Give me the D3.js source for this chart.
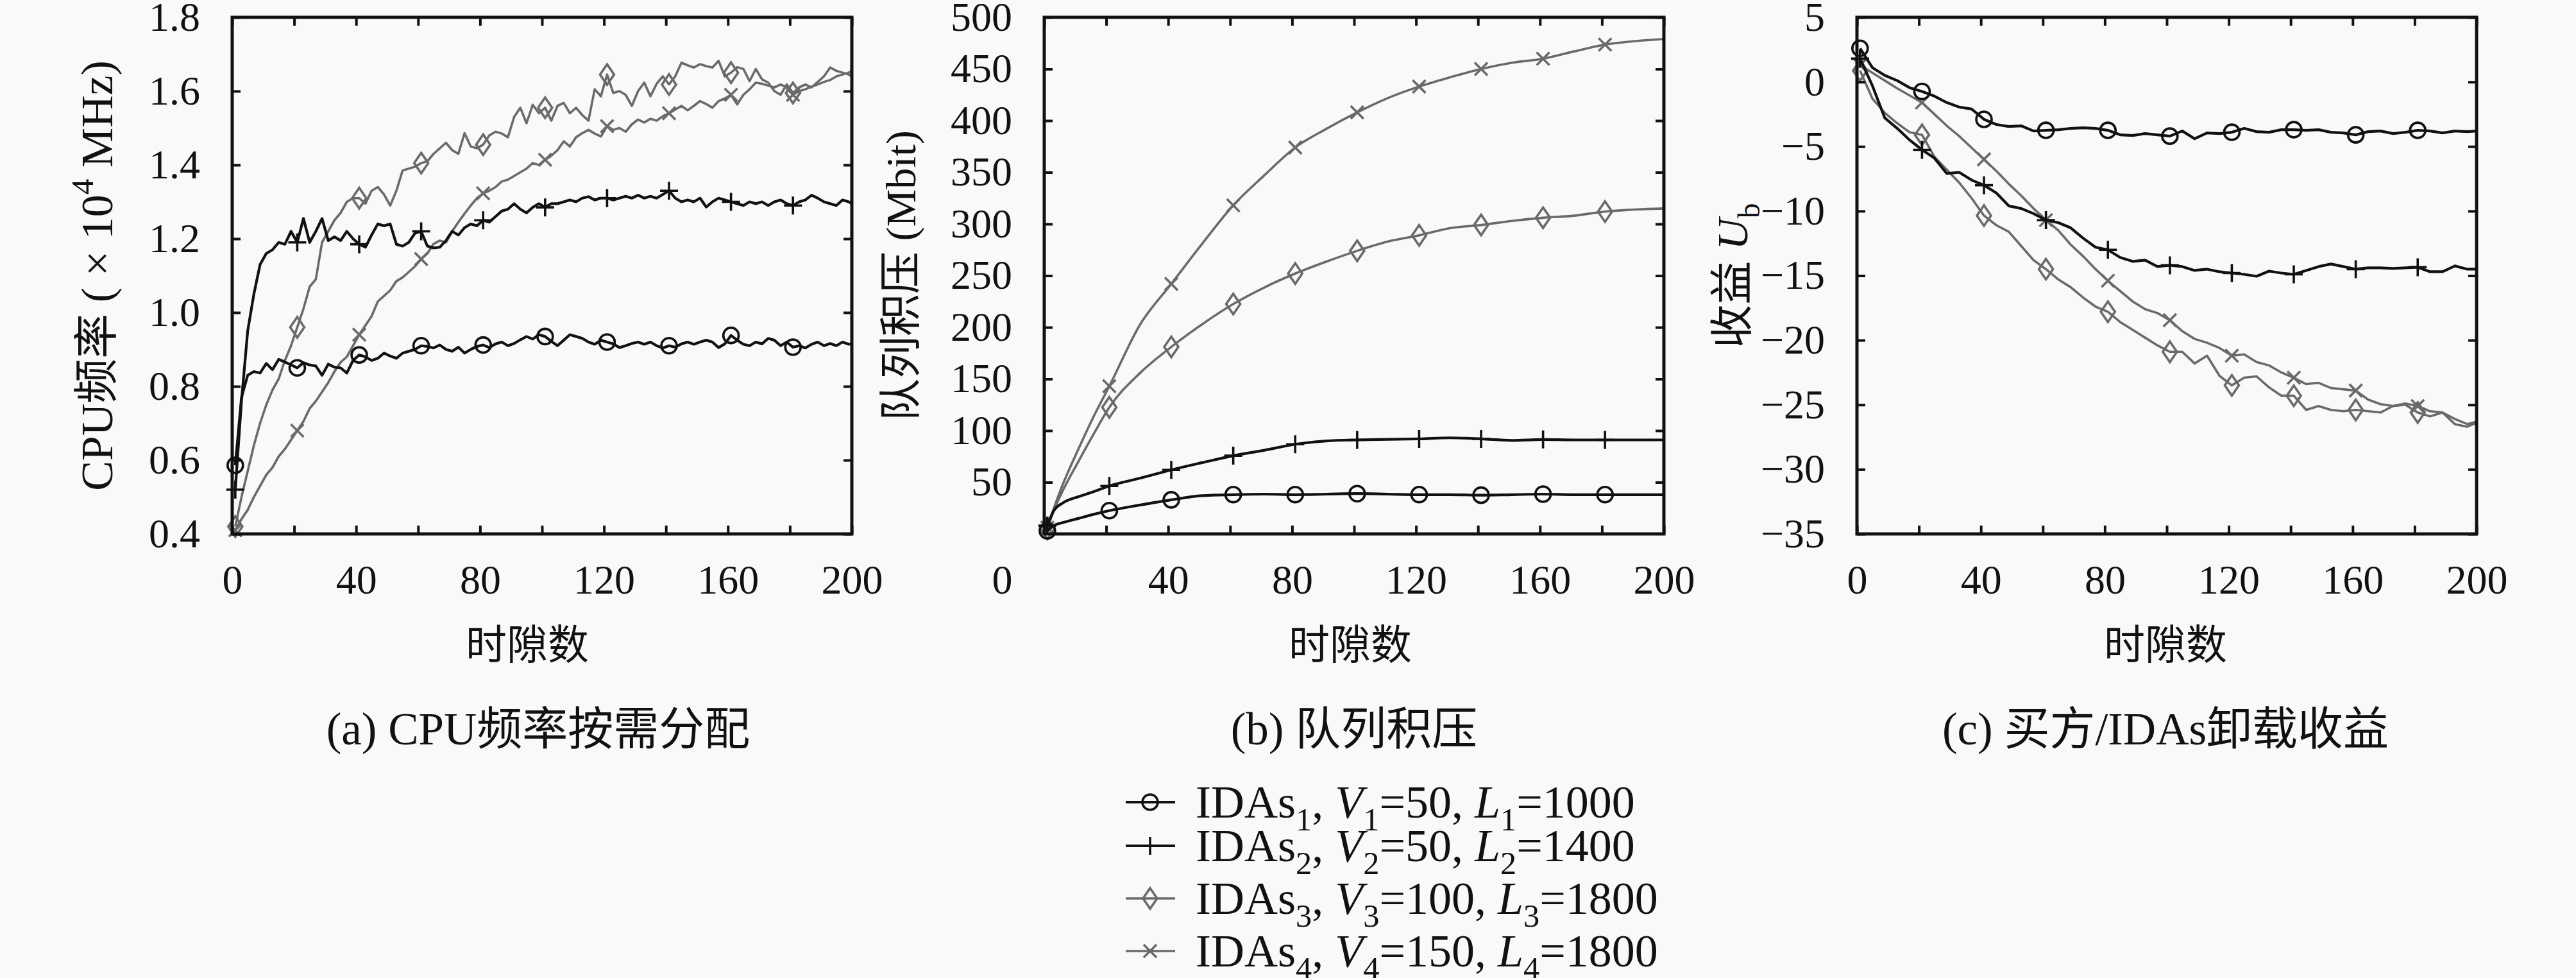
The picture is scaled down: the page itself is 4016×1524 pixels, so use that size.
<!DOCTYPE html>
<html>
<head>
<meta charset="utf-8">
<script src="https://cdn.jsdelivr.net/npm/d3@7"></script>
<style>
  body { margin: 0; background: #f9f9f9; }
  text { font-family: "Liberation Serif", "DejaVu Serif", "Noto Sans CJK SC", serif; fill: #111; }
</style>
</head>
<body>
<svg id="chart"></svg>
<script>
// ---- data ----
const slotsA = d3.range(1, 200, 2).concat([200]);          // time slots, panel (a)
const slotsB = [1, 3, 6, 11, 16, 21, 31, 41, 51, 61, 71, 81, 91, 101, 111, 121, 131, 141, 151, 161, 171, 181, 191, 200];
const slotsC = d3.range(1, 200, 4).concat([200]);          // time slots, panel (c)
const markSlots = [1, 21, 41, 61, 81, 101, 121, 141, 161, 181];

const xTickVals = [0, 20, 40, 60, 80, 100, 120, 140, 160, 180, 200];
const xLabelVals = [0, 40, 80, 120, 160, 200];
const yTicksA = [0.4, 0.6, 0.8, 1.0, 1.2, 1.4, 1.6, 1.8];
const yTicksB = [50, 100, 150, 200, 250, 300, 350, 400, 450, 500];
const yTicksC = [-35, -30, -25, -20, -15, -10, -5, 0, 5];

// (a) CPU frequency, x10^4 MHz
const cpu1 = [0.586,0.77,0.83,0.84,0.836,0.862,0.845,0.873,0.866,0.858,
  0.85,0.864,0.858,0.855,0.83,0.86,0.852,0.85,0.836,0.87,
  0.885,0.88,0.87,0.876,0.89,0.882,0.876,0.89,0.895,0.9,
  0.91,0.908,0.904,0.912,0.9,0.895,0.906,0.89,0.9,0.908,
  0.912,0.905,0.915,0.92,0.91,0.916,0.926,0.935,0.928,0.94,
  0.935,0.922,0.91,0.925,0.94,0.935,0.93,0.92,0.914,0.925,
  0.92,0.915,0.905,0.91,0.916,0.92,0.914,0.92,0.91,0.904,
  0.91,0.906,0.915,0.92,0.914,0.92,0.925,0.92,0.905,0.915,
  0.938,0.925,0.914,0.91,0.92,0.915,0.93,0.925,0.91,0.92,
  0.906,0.91,0.904,0.914,0.92,0.91,0.916,0.91,0.92,0.914,
  0.915];
const cpu2 = [0.52,0.76,0.95,1.05,1.13,1.16,1.17,1.19,1.185,1.22,
  1.19,1.255,1.19,1.22,1.255,1.195,1.205,1.195,1.22,1.2,
  1.185,1.177,1.21,1.24,1.235,1.24,1.185,1.18,1.19,1.215,
  1.22,1.18,1.175,1.177,1.195,1.22,1.21,1.23,1.24,1.235,
  1.25,1.245,1.26,1.275,1.28,1.295,1.28,1.27,1.285,1.295,
  1.285,1.295,1.295,1.3,1.305,1.3,1.31,1.314,1.305,1.31,
  1.31,1.305,1.31,1.315,1.31,1.318,1.31,1.315,1.31,1.32,
  1.33,1.31,1.3,1.305,1.3,1.31,1.286,1.3,1.31,1.305,
  1.3,1.295,1.29,1.3,1.295,1.3,1.29,1.3,1.305,1.295,
  1.29,1.3,1.305,1.318,1.31,1.3,1.295,1.29,1.305,1.3,
  1.295];
const cpu3 = [0.42,0.5,0.57,0.64,0.7,0.75,0.79,0.82,0.87,0.91,
  0.96,1.01,1.07,1.09,1.19,1.22,1.25,1.27,1.3,1.31,
  1.31,1.295,1.33,1.34,1.32,1.29,1.33,1.385,1.39,1.395,
  1.405,1.41,1.43,1.445,1.46,1.44,1.43,1.486,1.45,1.445,
  1.455,1.48,1.49,1.485,1.475,1.53,1.555,1.513,1.563,1.54,
  1.555,1.52,1.56,1.568,1.54,1.555,1.535,1.52,1.605,1.586,
  1.645,1.595,1.6,1.59,1.56,1.6,1.623,1.586,1.62,1.64,
  1.618,1.64,1.677,1.67,1.664,1.673,1.668,1.664,1.682,1.64,
  1.65,1.665,1.66,1.627,1.66,1.632,1.623,1.6,1.59,1.618,
  1.595,1.61,1.618,1.61,1.625,1.64,1.664,1.655,1.65,1.645,
  1.64];
const cpu4 = [0.41,0.44,0.465,0.5,0.53,0.56,0.58,0.61,0.63,0.655,
  0.68,0.705,0.74,0.76,0.785,0.81,0.84,0.865,0.88,0.91,
  0.94,0.965,0.99,1.03,1.045,1.06,1.085,1.095,1.11,1.125,
  1.145,1.16,1.186,1.195,1.19,1.22,1.245,1.268,1.29,1.31,
  1.323,1.33,1.34,1.355,1.36,1.37,1.38,1.39,1.405,1.4,
  1.414,1.425,1.44,1.464,1.45,1.475,1.486,1.495,1.485,1.477,
  1.505,1.495,1.5,1.49,1.51,1.523,1.515,1.525,1.52,1.532,
  1.54,1.55,1.56,1.548,1.56,1.573,1.565,1.555,1.573,1.58,
  1.59,1.564,1.59,1.605,1.623,1.62,1.615,1.61,1.618,1.61,
  1.59,1.6,1.605,1.612,1.618,1.625,1.63,1.64,1.645,1.65,
  1.655];

// (b) queue backlog, Mbit
const queue1 = [3,8,11,15,19,22.5,28,33,37,38,38.5,38,38.5,39,38.5,38,38,37.5,38,38.5,38,38,38,38];
const queue2 = [8,22,30,36,41,46.4,54,62,69,75.7,81,86.8,90,91,91.5,92,93,92,90.5,91.4,91,91,91,91];
const queue3 = [5,22,42,70,97,122.5,156,181,203,222.5,238.5,252,263.5,274,283,289,296,299,303,306,308,312,314,315];
const queue4 = [6,24,48,82,114,143,203,242,281,318,347,374,392,408,422,433,442,450,456,460,467,473.6,477,479];

// (c) offloading utility U_b
const util1 = [2.6,1.1,0.5,0.1,-0.45, -0.74,-1.1,-1.6,-1.95,-2.1, -2.9,-3.3,-3.45,-3.4,-3.8,
  -3.75,-3.7,-3.6,-3.55,-3.6, -3.75,-4.1,-4.15,-4.0,-4.1, -4.2,-3.8,-4.4,-3.95,-4.0,
  -3.9,-3.6,-3.85,-3.9,-3.7, -3.7,-3.75,-3.7,-3.9,-3.95, -4.1,-3.85,-3.8,-4.0,-3.9,
  -3.75,-3.8,-3.95,-3.8,-3.85, -3.8];
const util2 = [1.8,-0.3,-2.8,-3.6,-4.5, -5.26,-5.9,-7.1,-7.0,-7.6, -8.0,-8.6,-9.6,-9.8,-10.2,
  -10.7,-10.9,-11.3,-12.1,-12.8, -13.0,-13.6,-13.9,-13.8,-14.3, -14.2,-14.3,-14.6,-14.5,-14.7,
  -14.8,-14.9,-15.05,-14.65,-14.8, -14.9,-14.6,-14.3,-14.1,-14.3, -14.5,-14.4,-14.4,-14.45,-14.4,
  -14.35,-14.7,-14.7,-14.25,-14.5, -14.5];
const util3 = [0.87,-1.3,-2.4,-3.2,-3.9, -4.1,-5.8,-6.8,-7.8,-9.0, -10.35,-11.1,-11.6,-12.7,-13.8,
  -14.5,-15.3,-15.9,-16.7,-17.4, -17.8,-18.6,-19.2,-19.8,-20.4, -20.9,-20.9,-21.8,-21.2,-22.75,
  -23.5,-22.9,-22.8,-23.65,-24.3, -24.3,-25.4,-25.1,-25.4,-25.5, -25.4,-25.5,-25.6,-25.1,-25.0,
  -25.6,-25.9,-25.6,-26.5,-26.7, -26.4];
const util4 = [1.3,0.7,0.1,-0.5,-1.05, -1.6,-2.5,-3.4,-4.2,-5.1, -6.0,-6.9,-7.9,-8.8,-9.8,
  -10.7,-11.5,-12.6,-13.5,-14.5, -15.4,-16.2,-17.0,-17.6,-17.9, -18.45,-19.3,-19.9,-20.2,-20.6,
  -21.2,-21.1,-21.7,-21.95,-22.5, -22.9,-23.4,-23.3,-23.7,-23.8, -23.9,-24.6,-24.95,-25.1,-24.9,
  -25.1,-25.5,-25.6,-26.1,-26.5, -26.3];

// legend parameters
const legendV = [50, 50, 100, 150];
const legendL = [1000, 1400, 1800, 1800];

// ---- layout / style ----
const W = 4016, H = 1524;
const plotTop = 27, pw = 966, ph = 805;
const colors = ["#111111", "#111111", "#6a6a6a", "#6a6a6a"];
const widths = [4.2, 4.2, 3.6, 3.6];
const shapes = ["circle", "plus", "diamond", "cross"];

const svg = d3.select("#chart").attr("width", W).attr("height", H);
svg.append("rect").attr("width", W).attr("height", H).attr("fill", "#f9f9f9");

function markerPath(shape) {
  if (shape === "circle") return "M12,0A12,12 0 1 1 -12,0A12,12 0 1 1 12,0Z";
  if (shape === "plus") return "M-14,0H14M0,-14V14";
  if (shape === "diamond") return "M0,-16L11,0L0,16L-11,0Z";
  return "M-10,-10L10,10M-10,10L10,-10";
}

// text with italic / sub / superscript parts
function rich(sel, parts, fs) {
  let shift = 0;
  parts.forEach(([t, kind]) => {
    const sp = sel.append("tspan").text(t);
    let want = 0;
    if (kind === "sub") { want = fs * 0.28; sp.attr("font-size", fs * 0.7); }
    if (kind === "sup") { want = -fs * 0.42; sp.attr("font-size", fs * 0.7); }
    if (kind === "i") sp.attr("font-style", "italic");
    if (want !== shift) { sp.attr("dy", want - shift); shift = want; }
  });
}

const panels = [
  {left: 362, slots: slotsA, data: [cpu1, cpu2, cpu3, cpu4], yDom: [0.4, 1.8], yTicks: yTicksA,
   fmt: d3.format(".1f"), curve: d3.curveLinear, titleX: -212, titleSize: 70,
   title: [["CPU频率 ( × 10", "n"], ["4", "sup"], [" MHz)", "n"]],
   xTitleX: 460, cap: "(a) CPU频率按需分配", capX: 477},
  {left: 1628, slots: slotsB, data: [queue1, queue2, queue3, queue4], yDom: [0, 500], yTicks: yTicksB,
   fmt: d3.format("d"), curve: d3.curveMonotoneX, titleX: -224, titleSize: 66,
   title: [["队列积压 (Mbit)", "n"]],
   xTitleX: 477, cap: "(b) 队列积压", capX: 483, zeroShift: -66},
  {left: 2895, slots: slotsC, data: [util1, util2, util3, util4], yDom: [-35, 5], yTicks: yTicksC,
   fmt: d3.format("d"), curve: d3.curveLinear, titleX: -195, titleSize: 68,
   title: [["收益 ", "n"], ["U", "i"], ["b", "sub"]],
   xTitleX: 481, cap: "(c) 买方/IDAs卸载收益", capX: 481}
];

panels.forEach(p => {
  const g = svg.append("g").attr("transform", `translate(${p.left},${plotTop})`);
  const x = d3.scaleLinear().domain([0, 200]).range([0, pw]);
  const y = d3.scaleLinear().domain(p.yDom).range([ph, 0]);

  // series, grey ones first so black sits on top
  [3, 2, 1, 0].forEach(k => {
    const pts = p.slots.map((s, i) => ({s, v: p.data[k][i]}));
    g.append("path")
      .datum(pts)
      .attr("fill", "none")
      .attr("stroke", colors[k])
      .attr("stroke-width", widths[k])
      .attr("stroke-linejoin", "round")
      .attr("d", d3.line().x(d => x(d.s)).y(d => y(d.v)).curve(p.curve));

    g.selectAll(null)
      .data(pts.filter(d => markSlots.includes(d.s)))
      .enter().append("path")
      .attr("transform", d => `translate(${x(d.s)},${y(d.v)})`)
      .attr("d", markerPath(shapes[k]))
      .attr("fill", "none")
      .attr("stroke", colors[k])
      .attr("stroke-width", 3.6);
  });

  // axes: inward ticks on all four sides
  const fmtX = d => xLabelVals.includes(d) ? d : "";
  const bottom = g.append("g").attr("transform", `translate(0,${ph})`)
    .call(d3.axisBottom(x).tickValues(xTickVals).tickSizeInner(-13).tickSizeOuter(0).tickPadding(48).tickFormat(fmtX));
  g.append("g")
    .call(d3.axisTop(x).tickValues(xTickVals).tickSizeInner(-13).tickSizeOuter(0).tickFormat(""));
  g.append("g")
    .call(d3.axisLeft(y).tickValues(p.yTicks).tickSizeInner(-13).tickSizeOuter(0).tickPadding(50).tickFormat(p.fmt));
  g.append("g").attr("transform", `translate(${pw},0)`)
    .call(d3.axisRight(y).tickValues(p.yTicks).tickSizeInner(-13).tickSizeOuter(0).tickFormat(""));

  g.selectAll(".domain").remove();
  g.selectAll(".tick line").attr("stroke", "#111").attr("stroke-width", 4);
  g.selectAll(".tick text").attr("font-size", 64).attr("font-family", "Liberation Serif").attr("fill", "#111");
  if (p.zeroShift) {
    bottom.selectAll(".tick text").filter(d => d === 0).attr("x", p.zeroShift);
  }

  g.append("rect").attr("width", pw).attr("height", ph)
    .attr("fill", "none").attr("stroke", "#111").attr("stroke-width", 5);

  // y title
  const yt = g.append("text")
    .attr("transform", `translate(${p.titleX},${ph / 2}) rotate(-90)`)
    .attr("text-anchor", "middle").attr("dy", "0.35em").attr("font-size", p.titleSize);
  rich(yt, p.title, p.titleSize);

  // x title and caption
  g.append("text").attr("x", p.xTitleX).attr("y", 1027 - plotTop)
    .attr("text-anchor", "middle").attr("font-size", 64).text("时隙数");
  g.append("text").attr("x", p.capX).attr("y", 1160 - plotTop)
    .attr("text-anchor", "middle").attr("font-size", 71).text(p.cap);
});

// legend
const legendRows = [1250, 1318, 1400, 1482];
const legend = svg.append("g");
legendV.forEach((v, k) => {
  const row = legend.append("g").attr("transform", `translate(0,${legendRows[k]})`);
  row.append("line").attr("x1", 1755).attr("x2", 1832)
    .attr("stroke", colors[k]).attr("stroke-width", widths[k]);
  row.append("path").attr("transform", "translate(1793,0)")
    .attr("d", markerPath(shapes[k])).attr("fill", "none")
    .attr("stroke", colors[k]).attr("stroke-width", 3.6);
  const t = row.append("text").attr("x", 1864).attr("dy", "0.33em").attr("font-size", 72);
  const n = String(k + 1);
  rich(t, [["IDAs", "n"], [n, "sub"], [",  ", "n"], ["V", "i"], [n, "sub"], ["=" + v + ",  ", "n"],
           ["L", "i"], [n, "sub"], ["=" + legendL[k], "n"]], 72);
});
</script>
</body>
</html>
